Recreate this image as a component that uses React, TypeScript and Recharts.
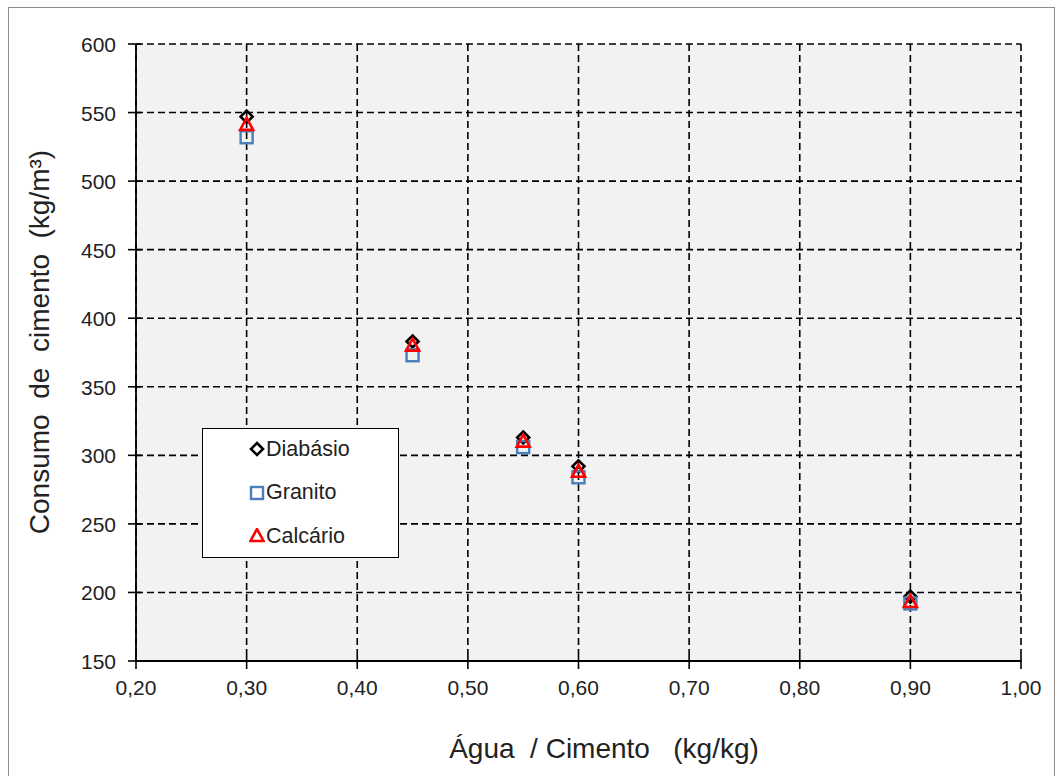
import { ScatterChart, Scatter, XAxis, YAxis, CartesianGrid } from "recharts";

const agua = [0.3, 0.45, 0.55, 0.6, 0.9];
const diabasio = [547, 383, 313, 292, 197];
const granito = [532, 373, 306, 284, 192];
const calcario = [541, 380, 310, 288, 193];

const xTicks = [0.2, 0.3, 0.4, 0.5, 0.6, 0.7, 0.8, 0.9, 1.0];
const yTicks = [150, 200, 250, 300, 350, 400, 450, 500, 550, 600];

const toPoints = (ys: number[]) => agua.map((x, i) => ({ x, y: ys[i] }));

const FONT = "'Liberation Sans', Arial, sans-serif";

const Diamond = ({ cx, cy }: any) => (
  <path
    d={`M${cx},${cy - 6} L${cx + 6},${cy} L${cx},${cy + 6} L${cx - 6},${cy} Z`}
    fill="none"
    stroke="#000"
    strokeWidth={2.6}
  />
);

const Square = ({ cx, cy }: any) => (
  <rect x={cx - 6} y={cy - 6} width={12} height={12} fill="none" stroke="#4a7ebb" strokeWidth={2.4} />
);

const Triangle = ({ cx, cy }: any) => (
  <path
    d={`M${cx},${cy - 7} L${cx + 6.5},${cy + 5} L${cx - 6.5},${cy + 5} Z`}
    fill="none"
    stroke="#ff0000"
    strokeWidth={2.6}
  />
);

const YTick = ({ x, y, payload }: any) => (
  <g>
    <line x1={x - 8} x2={x + 5} y1={y} y2={y} stroke="#000" strokeWidth={1.6} />
    <text x={x - 20} y={y + 8} textAnchor="end" fontFamily={FONT} fontSize={21} fill="#222">
      {payload.value}
    </text>
  </g>
);

const XTick = ({ x, y, payload }: any) => (
  <g>
    <line x1={x} x2={x} y1={y - 5} y2={y + 8} stroke="#000" strokeWidth={1.6} />
    <text x={x} y={y + 34} textAnchor="middle" fontFamily={FONT} fontSize={21} fill="#222">
      {payload.value.toFixed(2).replace(".", ",")}
    </text>
  </g>
);

const legendItems = [
  { name: "Diabásio", Shape: Diamond },
  { name: "Granito", Shape: Square },
  { name: "Calcário", Shape: Triangle },
];

const LegendBox = () => (
  <div
    style={{
      position: "absolute",
      left: 202,
      top: 428,
      width: 195,
      height: 128,
      border: "1.5px solid #000",
      background: "#fff",
    }}
  >
    {legendItems.map((it, i) => (
      <div
        key={it.name}
        style={{ position: "absolute", left: 46, top: 5 + i * 43.5, height: 30, display: "flex", alignItems: "center" }}
      >
        <svg width={16} height={16} style={{ marginRight: 1 }}>
          <it.Shape cx={8} cy={8} />
        </svg>
        <span style={{ fontFamily: FONT, fontSize: 21.5, color: "#222" }}>{it.name}</span>
      </div>
    ))}
  </div>
);

export default function App() {
  return (
    <div style={{ position: "absolute", left: 0, top: 0, width: 1060, height: 776, background: "#fff" }}>
      <div style={{ position: "absolute", left: 8, top: 7, width: 1045, height: 768, border: "1px solid #8c8c8c" }} />
      <div style={{ position: "absolute", left: 0, top: 0 }}>
        <ScatterChart width={1060} height={776} margin={{ top: 44, right: 39, bottom: 55, left: 76 }}>
          <CartesianGrid fill="#f2f2f2" stroke="#000" strokeWidth={1.6} strokeDasharray="7 4" />
          <XAxis
            type="number"
            dataKey="x"
            domain={[0.2, 1.0]}
            ticks={xTicks}
            height={60}
            tickSize={0}
            tickMargin={0}
            tickLine={false}
            tick={<XTick />}
            axisLine={{ stroke: "#000", strokeWidth: 1.8 }}
            allowDataOverflow
          />
          <YAxis
            type="number"
            dataKey="y"
            domain={[150, 600]}
            ticks={yTicks}
            width={60}
            tickSize={0}
            tickMargin={0}
            tickLine={false}
            tick={<YTick />}
            axisLine={{ stroke: "#000", strokeWidth: 1.8 }}
            allowDataOverflow
          />
          <Scatter name="Diabásio" data={toPoints(diabasio)} shape={<Diamond />} isAnimationActive={false} />
          <Scatter name="Granito" data={toPoints(granito)} shape={<Square />} isAnimationActive={false} />
          <Scatter name="Calcário" data={toPoints(calcario)} shape={<Triangle />} isAnimationActive={false} />
        </ScatterChart>
      </div>
      <LegendBox />
      <div
        style={{
          position: "absolute",
          left: 40,
          top: 342,
          transform: "translate(-50%, -50%) rotate(-90deg)",
          whiteSpace: "pre",
          fontFamily: FONT,
          fontSize: 28,
          color: "#222",
          lineHeight: 1,
        }}
      >
        {"Consumo  de  cimento  (kg/m³)"}
      </div>
      <div
        style={{
          position: "absolute",
          left: 604,
          top: 732,
          transform: "translateX(-50%)",
          whiteSpace: "pre",
          fontFamily: FONT,
          fontSize: 28,
          color: "#222",
          lineHeight: 1.2,
        }}
      >
        {"Água  / Cimento   (kg/kg)"}
      </div>
    </div>
  );
}
